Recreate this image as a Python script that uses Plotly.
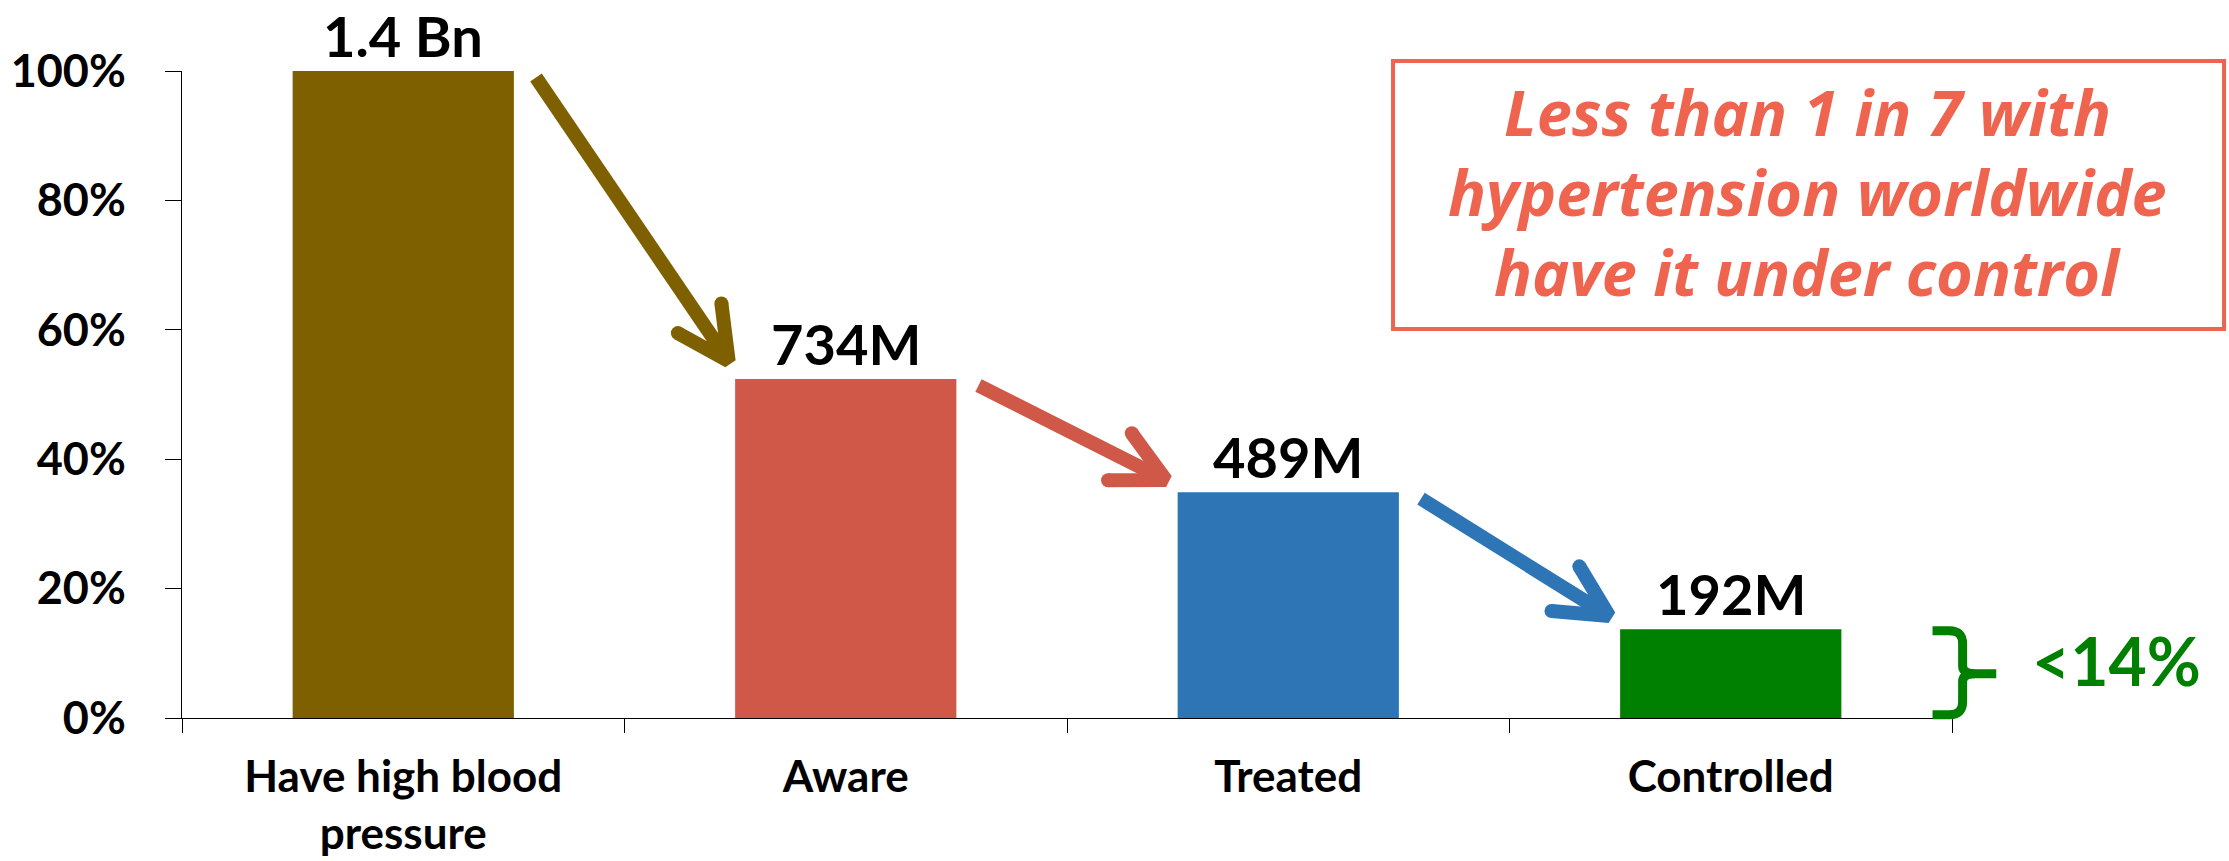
import math
import plotly.graph_objects as go

# ---------------- data ----------------
categories = ["Have high blood<br>pressure", "Aware", "Treated", "Controlled"]
shares = [1.0, 0.524, 0.349, 0.137]          # share of people with hypertension
value_labels = ["1.4 Bn", "734M", "489M", "192M"]
bar_colors = ["#7F6000", "#CF5849", "#2E75B6", "#008000"]
y_tickvals = [0.0, 0.2, 0.4, 0.6, 0.8, 1.0]
y_ticktext = ["0%", "20%", "40%", "60%", "80%", "100%"]
callout_lines = ["Less than 1 in 7 with", "hypertension worldwide", "have it under control"]
brace_label = "<14%"
callout_color = "#EF644F"

# ---------------- geometry ----------------
W, H = 2229, 861
ML, MR, MT, MB = 182, 277, 71, 143
PW, PH = W - ML - MR, H - MT - MB
NCAT = len(categories)
SX = PW / NCAT      # px per category unit
SY = PH             # px per unit share
BAR_W = 0.5
FONT = "Lato"

fig = go.Figure()
fig.add_trace(go.Bar(
    x=categories, y=shares, width=BAR_W,
    marker=dict(color=bar_colors, line=dict(width=0)),
    hoverinfo="skip", showlegend=False,
))


def arrow_geom(x0, y0, x1, y1, w=13, theta=27, L=56):
    px0, py0, px1, py1 = x0 * SX, y0 * SY, x1 * SX, y1 * SY
    dx, dy = px1 - px0, py1 - py0
    n = math.hypot(dx, dy)
    ux, uy = dx / n, dy / n
    inset = (w / 2) / math.sin(math.radians(theta))
    vx, vy = px1 - ux * inset, py1 - uy * inset
    bx, by = -ux, -uy
    arms = []
    for s in (1, -1):
        a = math.radians(s * theta)
        rx = bx * math.cos(a) - by * math.sin(a)
        ry = bx * math.sin(a) + by * math.cos(a)
        arms.append((vx + rx * L, vy + ry * L))
    conv = lambda p: (p[0] / SX, p[1] / SY)
    shaft = [conv((px0, py0)), conv((vx - ux * 2, vy - uy * 2))]
    head = [conv(arms[0]), conv((vx, vy)), conv(arms[1])]
    return shaft, head


AW = 14
for i in range(NCAT - 1):
    x0 = i + BAR_W / 2 + 0.05
    y0 = shares[i] - 0.01
    x1 = (i + 1) - BAR_W / 2 + 0.005
    y1 = shares[i + 1] + 0.008
    shaft, head = arrow_geom(x0, y0, x1, y1, w=AW, L=58)
    col = bar_colors[i]
    fig.add_trace(go.Scatter(
        x=[p[0] for p in shaft], y=[p[1] for p in shaft], mode="lines",
        line=dict(color=col, width=AW), xaxis="x2", yaxis="y",
        hoverinfo="skip", showlegend=False))
    fig.add_trace(go.Scatter(
        x=[p[0] for p in head], y=[p[1] for p in head], mode="lines",
        line=dict(color=col, width=AW), xaxis="x2", yaxis="y",
        hoverinfo="skip", showlegend=False))
    fig.add_trace(go.Scatter(
        x=[head[0][0], head[2][0]], y=[head[0][1], head[2][1]], mode="markers",
        marker=dict(color=col, size=AW, line=dict(width=0)), xaxis="x2", yaxis="y",
        hoverinfo="skip", showlegend=False, cliponaxis=False))

annotations = []
for cat, v, lab in zip(categories, shares, value_labels):
    annotations.append(dict(
        x=cat, y=v, xref="x", yref="y", text=lab, showarrow=False,
        yanchor="bottom", xanchor="center", yshift=0,
        font=dict(family=FONT, size=56, color="black", weight="bold")))

# callout box text
line_y = [0.938, 0.813, 0.690]
for t, yy in zip(callout_lines, line_y):
    annotations.append(dict(
        x=0.9186, y=yy, xref="paper", yref="paper", text=t, showarrow=False,
        xanchor="center", yanchor="middle",
        font=dict(family="Open Sans", size=63, color=callout_color,
                  weight="bold", style="italic")))

# brace + label (paper y == share since range is [0,1])
top = shares[-1]
xl, xv, xn = 1 - 0.011, 1 + 0.006, 1 + 0.025
r = 0.0075
ry = 0.02
mid = top / 2
bt = 0.005
tp = top - 0.002
brace_path = (
    f"M {xl},{tp} L {xv - r},{tp} Q {xv},{tp} {xv},{tp - ry} "
    f"L {xv},{mid + ry * 0.6} Q {xv},{mid} {xv + r},{mid} L {xn},{mid} "
    f"M {xv + r},{mid} Q {xv},{mid} {xv},{mid - ry * 0.6} "
    f"L {xv},{bt + ry} Q {xv},{bt} {xv - r},{bt} L {xl},{bt}"
)
shapes = [
    dict(type="path", xref="paper", yref="paper", path=brace_path,
         line=dict(color=bar_colors[-1], width=9), fillcolor="rgba(0,0,0,0)"),
    dict(type="rect", xref="paper", yref="paper",
         x0=0.6842, x1=1.1537, y0=0.6012, y1=1.0155,
         line=dict(color=callout_color, width=4), fillcolor="rgba(0,0,0,0)"),
]
annotations.append(dict(
    x=1.0932, y=mid, xref="paper", yref="paper", text=brace_label, showarrow=False,
    xanchor="center", yanchor="middle", yshift=13,
    font=dict(family=FONT, size=66, color=bar_colors[-1], weight="bold")))

fig.update_layout(
    width=W, height=H, autosize=False,
    margin=dict(l=ML, r=MR, t=MT, b=MB, pad=0, autoexpand=False),
    paper_bgcolor="white", plot_bgcolor="white",
    showlegend=False, bargap=0.5,
    font=dict(family=FONT, color="black"),
    xaxis=dict(
        type="category", range=[-0.5, NCAT - 0.5], tickson="boundaries",
        ticks="outside", ticklen=14, tickwidth=1.3, tickcolor="black",
        showline=True, linecolor="black", linewidth=1.3, automargin=False,
        showgrid=False, zeroline=False, ticklabelstandoff=20,
        tickfont=dict(family=FONT, size=44, color="black", weight="bold"),
    ),
    xaxis2=dict(overlaying="x", range=[-0.5, NCAT - 0.5], visible=False,
                showgrid=False, zeroline=False),
    yaxis=dict(
        range=[0, 1], tickvals=y_tickvals, ticktext=y_ticktext,
        ticks="outside", ticklen=16, tickwidth=1.3, tickcolor="black",
        showline=True, linecolor="black", linewidth=1.3, automargin=False,
        showgrid=False, zeroline=False, ticklabelstandoff=30,
        tickfont=dict(family=FONT, size=45, color="black", weight="bold"),
    ),
    shapes=shapes, annotations=annotations,
)

fig.write_html("out.html")
